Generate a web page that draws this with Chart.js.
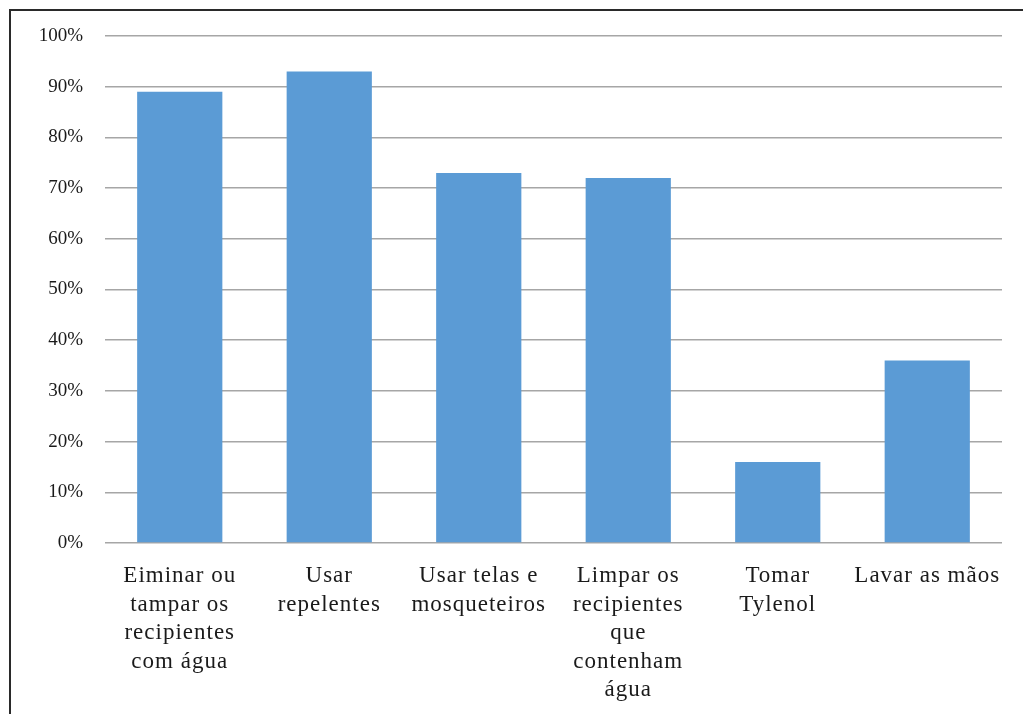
<!DOCTYPE html>
<html>
<head>
<meta charset="utf-8">
<script src="https://cdn.jsdelivr.net/npm/chart.js@4"></script>
<style>
  html, body { margin: 0; padding: 0; background: #fff; overflow: hidden; }
  #wrap { position: relative; width: 1023px; height: 714px; }
  #frame { position: absolute; left: 9px; top: 9px; width: 1100px; height: 800px; border: 2px solid #2a2a2a; box-sizing: border-box; }
  canvas { position: absolute; left: 0; top: 0; }
</style>
</head>
<body>
<div id="wrap">
  <div id="frame"></div>
  <canvas id="chart" width="1023" height="714"></canvas>
</div>
<script>
// Catégories (une ligne par élément du tableau)
const categories = [
  ["Eiminar ou", "tampar os", "recipientes", "com água"],
  ["Usar", "repelentes"],
  ["Usar telas e", "mosqueteiros"],
  ["Limpar os", "recipientes", "que", "contenham", "água"],
  ["Tomar", "Tylenol"],
  ["Lavar as mãos"]
];

// Valeurs en %
const values = [89, 93, 73, 72, 16, 36];

// Graduations de l'axe Y
const yTicks = [0, 10, 20, 30, 40, 50, 60, 70, 80, 90, 100];

const serif = "'Liberation Serif', 'Times New Roman', serif";

// Espacement des lettres seulement pour les étiquettes de l'axe X
const spacingPlugin = {
  id: 'spacing',
  beforeLayout(chart) {
    chart.ctx.letterSpacing = '1px';
  },
  afterLayout(chart) {
    const y = chart.scales.y;
    const base = Object.getPrototypeOf(y).drawLabels;
    y.drawLabels = function(area) {
      const c = this.ctx;
      const old = c.letterSpacing;
      c.letterSpacing = '0px';
      base.call(this, area);
      c.letterSpacing = old;
    };
  },
  beforeDraw(chart) {
    chart.ctx.letterSpacing = '1px';
  }
};

const ctx = document.getElementById('chart').getContext('2d');
new Chart(ctx, {
  type: 'bar',
  data: {
    labels: categories,
    datasets: [{
      data: values,
      backgroundColor: '#5b9bd5',
      categoryPercentage: 1,
      barPercentage: 0.57
    }]
  },
  plugins: [spacingPlugin],
  options: {
    responsive: false,
    animation: false,
    layout: { padding: { top: 36, right: 21, left: 0, bottom: 0 } },
    plugins: { legend: { display: false }, tooltip: { enabled: false } },
    scales: {
      x: {
        grid: { display: false, drawTicks: false },
        border: { display: false },
        ticks: {
          color: '#1a1a1a',
          font: { family: serif, size: 23, lineHeight: 1.24 },
          padding: 19,
          maxRotation: 0,
          autoSkip: false
        },
        afterFit: function(scale) { scale.height = 171; }
      },
      y: {
        min: yTicks[0],
        max: yTicks[yTicks.length - 1],
        afterBuildTicks: function(scale) {
          scale.ticks = yTicks.map(v => ({ value: v }));
        },
        grid: { color: '#a6a6a6', lineWidth: 1.6, drawTicks: false },
        border: { display: false },
        ticks: {
          color: '#1a1a1a',
          font: { family: serif, size: 19 },
          padding: 22,
          callback: v => v + '%'
        },
        afterFit: function(scale) { scale.width = 105; }
      }
    }
  }
});
</script>
</body>
</html>
